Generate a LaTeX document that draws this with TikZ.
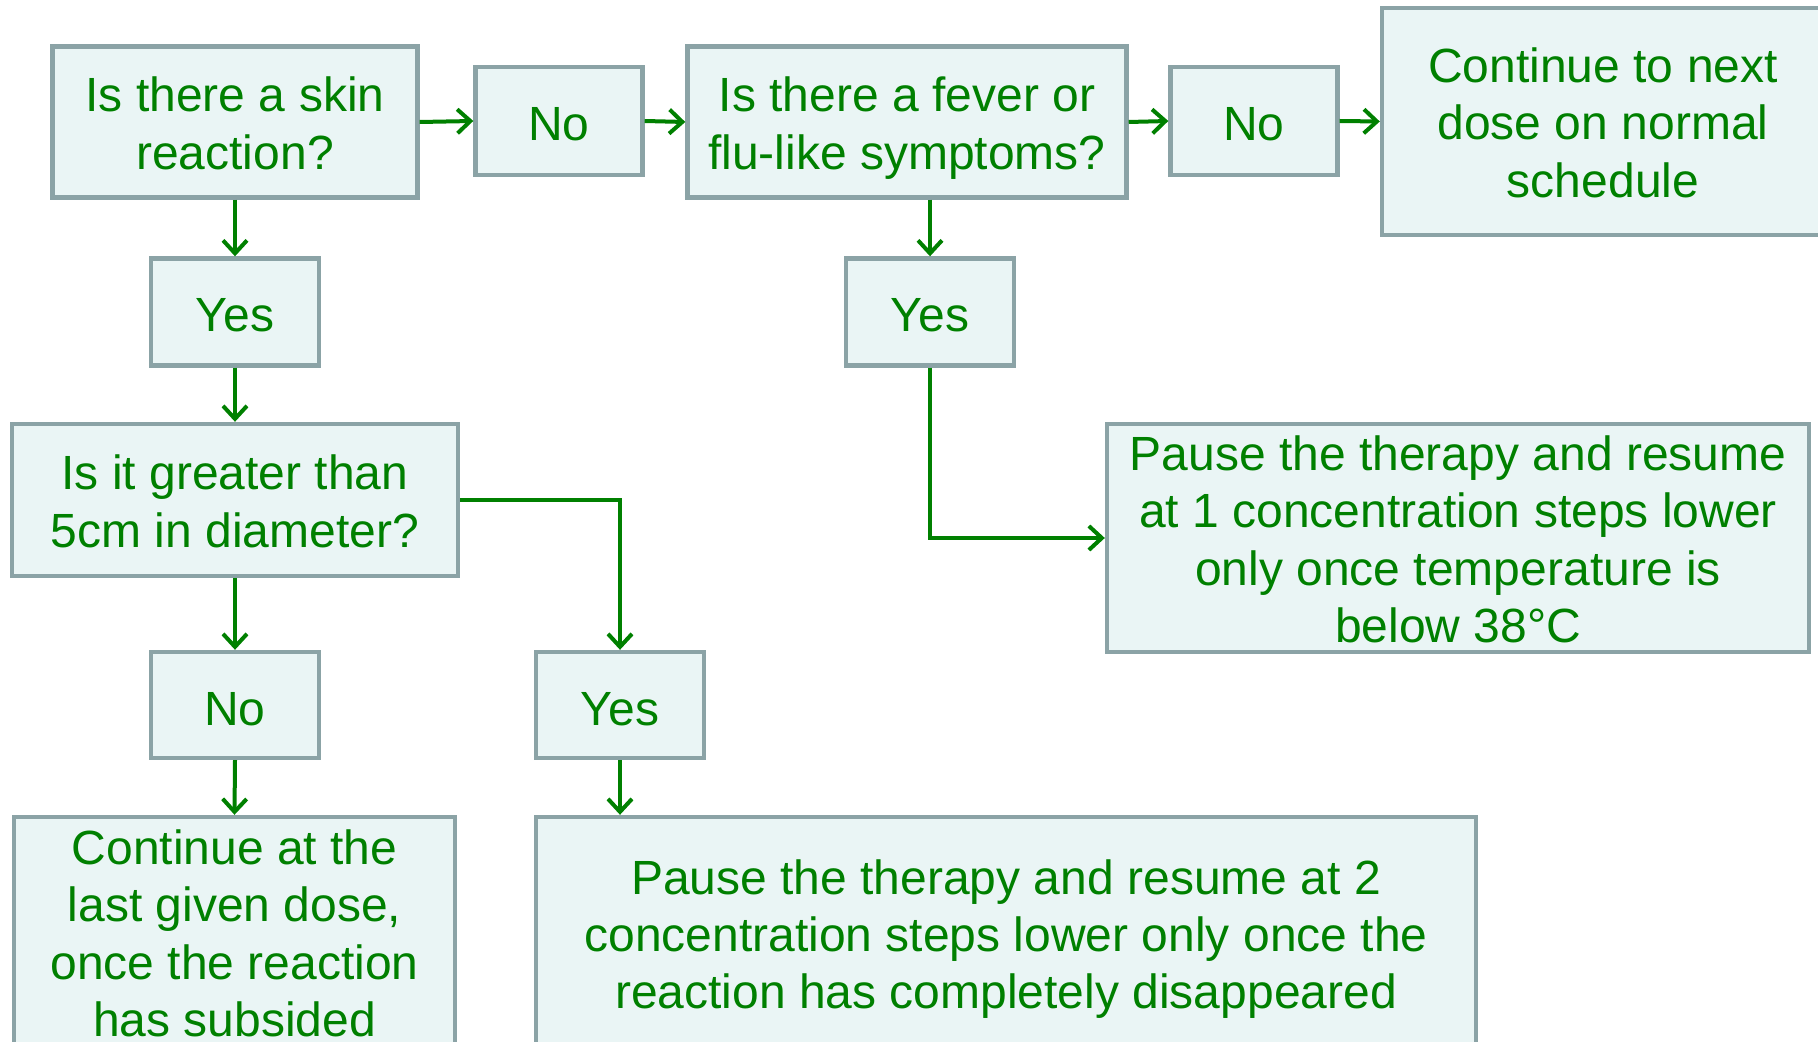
\documentclass[tikz,border=0pt]{standalone}
\usepackage{fontspec}
\setmainfont{Liberation Sans}
\usetikzlibrary{arrows.meta}
\definecolor{txtgreen}{RGB}{0,128,0}
\definecolor{boxline}{RGB}{139,163,166}
\definecolor{boxfill}{RGB}{234,245,245}
\newcommand{\boxstrut}{\rule[-6pt]{0pt}{32pt}}
\newcommand{\tallstrut}{\rule{0pt}{24.5pt}}
\tikzset{
  box/.style={draw=boxline, fill=boxfill, line width=2.2pt, text=txtgreen,
    align=center, inner sep=0pt, font=\fontsize{24}{28.6}\selectfont,
    execute at begin node=\boxstrut, execute at end node=\boxstrut},
  link/.style={draw=txtgreen, line width=2pt,
    -{Straight Barb[length=6.5pt,width=12pt,line width=2pt]}}
}
\begin{document}
\begin{tikzpicture}[x=0.5pt,y=-0.5pt]
\useasboundingbox (0,0) rectangle (1818,1042);
% first row
\node[box, minimum width=182.5pt, minimum height=75.5pt] (skin) at (235,122) {\tallstrut Is there a skin\\ reaction?};
\node[box, minimum width=83.5pt, minimum height=54pt] (no1) at (559,121) {No};
\node[box, minimum width=219.5pt, minimum height=75.5pt] (fever) at (907,122) {\tallstrut Is there a fever or\\ flu-like symptoms?};
\node[box, minimum width=83.5pt, minimum height=54pt] (no2) at (1254,121) {No};
\node[box, minimum width=221pt, minimum height=113.5pt] (next) at (1603,121.5) {\tallstrut Continue to next\\ dose on normal\\ schedule};
% second row
\node[box, minimum width=84pt, minimum height=53.5pt] (yes1) at (235,312) {Yes};
\node[box, minimum width=84pt, minimum height=53.5pt] (yes2) at (930,312) {Yes};
\node[box, minimum width=223pt, minimum height=76pt] (size) at (235,500) {\tallstrut Is it greater than\\ 5cm in diameter?};
\node[box, minimum width=351pt, minimum height=114pt, inner ysep=-2pt] (pause1) at (1458,538) {\tallstrut Pause the therapy and resume\\ at 1 concentration steps lower\\ only once temperature is\\ below 38°C};
% third row
\node[box, minimum width=84pt, minimum height=53pt] (no3) at (235,705) {No};
\node[box, minimum width=84pt, minimum height=53pt] (yes3) at (620,705) {Yes};
\node[box, minimum width=220.5pt, minimum height=115pt, inner ysep=-2pt] (last) at (234.5,932) {\tallstrut Continue at the\\ last given dose,\\ once the reaction\\ has subsided};
\node[box, minimum width=470pt, minimum height=116pt] (pause2) at (1006,933) {\tallstrut Pause the therapy and resume at 2\\ concentration steps lower only once the\\ reaction has completely disappeared};
% connectors
\draw[link] (skin.east) -- (no1.west);
\draw[link] (no1.east) -- (fever.west);
\draw[link] (fever.east) -- (no2.west);
\draw[link] (no2.east) -- (next.west);
\draw[link] (skin.south) -- (yes1.north);
\draw[link] (yes1.south) -- (size.north);
\draw[link] (yes2.north |- fever.south) -- (yes2.north);
\draw[link] (yes2.south) |- (pause1.west);
\draw[link] (size.east) -| (yes3.north);
\draw[link] (size.south) -- (no3.north);
\draw[link] (no3.south) -- (last.north);
\draw[link] (yes3.south) -- (yes3.south |- pause2.north);
\end{tikzpicture}
\end{document}
